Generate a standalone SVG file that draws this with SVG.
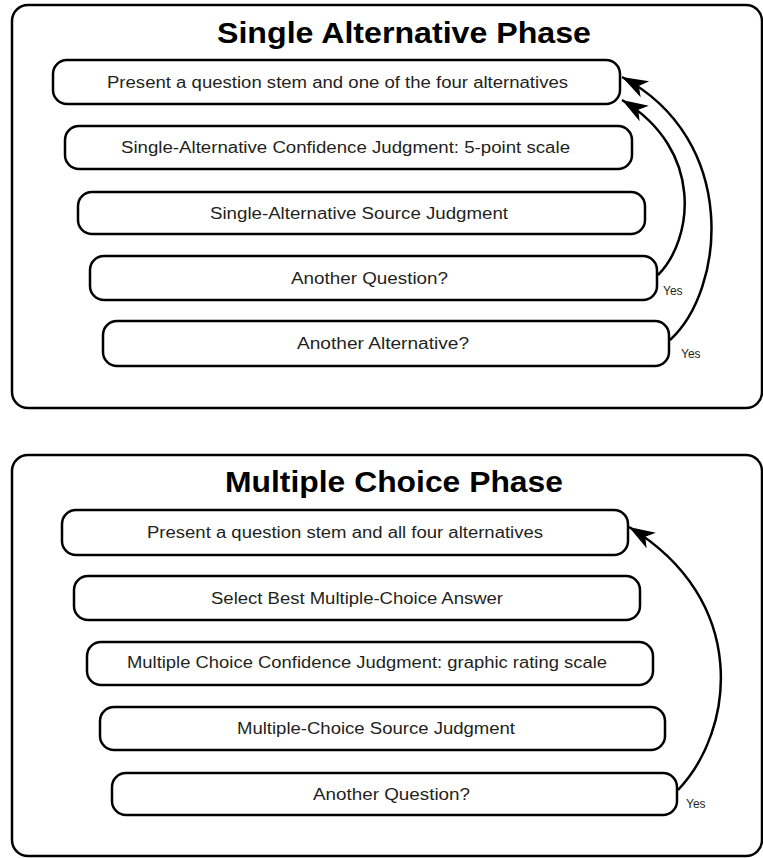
<svg xmlns="http://www.w3.org/2000/svg" width="763" height="858" viewBox="0 0 763 858">
<style>
.frame{fill:#fff;stroke:#000;stroke-width:2.5}
.box{fill:#fff;stroke:#000;stroke-width:2.5}
.title{font-family:"Liberation Sans",Arial,sans-serif;font-weight:bold;font-size:29px;fill:#000;text-anchor:middle}
.lbl{font-family:"Liberation Sans",Arial,sans-serif;font-size:16px;fill:#231f20;text-anchor:middle}
.yes{font-family:"Liberation Sans",Arial,sans-serif;font-size:12px;fill:#231f20}
.arrow{fill:none;stroke:#000;stroke-width:2.5}
</style>
<defs>
<marker id="ah" markerUnits="userSpaceOnUse" markerWidth="28" markerHeight="20" viewBox="0 0 28 20" refX="26" refY="10" orient="auto">
<path d="M0,1 L26,10 L0,19 L7,10 Z" fill="#000"/>
</marker>
</defs>

<g id="phase1">
<rect class="frame" x="12" y="5" width="750" height="403" rx="16"/>
<text class="title" x="404" y="43" textLength="374" lengthAdjust="spacingAndGlyphs">Single Alternative Phase</text>
</g>
<g id="s1"><rect class="box" x="53" y="60" width="567" height="44" rx="14"/><text class="lbl" x="337.5" y="88" textLength="461" lengthAdjust="spacingAndGlyphs">Present a question stem and one of the four alternatives</text></g>
<g id="s2"><rect class="box" x="65" y="126" width="567" height="43" rx="14"/><text class="lbl" x="345.5" y="153" textLength="449" lengthAdjust="spacingAndGlyphs">Single-Alternative Confidence Judgment: 5-point scale</text></g>
<g id="s3"><rect class="box" x="78" y="192" width="567" height="42" rx="14"/><text class="lbl" x="359" y="219" textLength="298" lengthAdjust="spacingAndGlyphs">Single-Alternative Source Judgment</text></g>
<g id="s4"><rect class="box" x="90" y="256" width="567" height="44" rx="14"/><text class="lbl" x="369.5" y="284" textLength="157" lengthAdjust="spacingAndGlyphs">Another Question?</text></g>
<g id="s5"><rect class="box" x="103" y="321" width="566" height="45" rx="14"/><text class="lbl" x="383" y="349" textLength="172" lengthAdjust="spacingAndGlyphs">Another Alternative?</text></g>

<g id="phase2">
<rect class="frame" x="12" y="455" width="750" height="401" rx="16"/>
<text class="title" x="394" y="492" textLength="338" lengthAdjust="spacingAndGlyphs">Multiple Choice Phase</text>
</g>
<g id="m1"><rect class="box" x="62" y="510" width="566" height="45" rx="14"/><text class="lbl" x="345" y="538" textLength="396" lengthAdjust="spacingAndGlyphs">Present a question stem and all four alternatives</text></g>
<g id="m2"><rect class="box" x="74" y="576" width="566" height="44" rx="14"/><text class="lbl" x="357" y="604" textLength="292" lengthAdjust="spacingAndGlyphs">Select Best Multiple-Choice Answer</text></g>
<g id="m3"><rect class="box" x="87" y="642" width="566" height="43" rx="14"/><text class="lbl" x="367" y="668" textLength="480" lengthAdjust="spacingAndGlyphs">Multiple Choice Confidence Judgment: graphic rating scale</text></g>
<g id="m4"><rect class="box" x="100" y="707" width="565" height="43" rx="14"/><text class="lbl" x="376" y="734" textLength="278" lengthAdjust="spacingAndGlyphs">Multiple-Choice Source Judgment</text></g>
<g id="m5"><rect class="box" x="112" y="773" width="565" height="42" rx="14"/><text class="lbl" x="391.5" y="800" textLength="157" lengthAdjust="spacingAndGlyphs">Another Question?</text></g>

<g id="connectors">
<path class="arrow" d="M658,275 C693,240 705,150 622,100" marker-end="url(#ah)"/>
<path class="arrow" d="M670,340 C725,290 740,140 622,77" marker-end="url(#ah)"/>
<path class="arrow" d="M678,790 C735,730 750,600 629,527" marker-end="url(#ah)"/>
<text class="yes" x="663" y="295">Yes</text>
<text class="yes" x="681" y="358">Yes</text>
<text class="yes" x="686" y="808">Yes</text>
</g>
</svg>
